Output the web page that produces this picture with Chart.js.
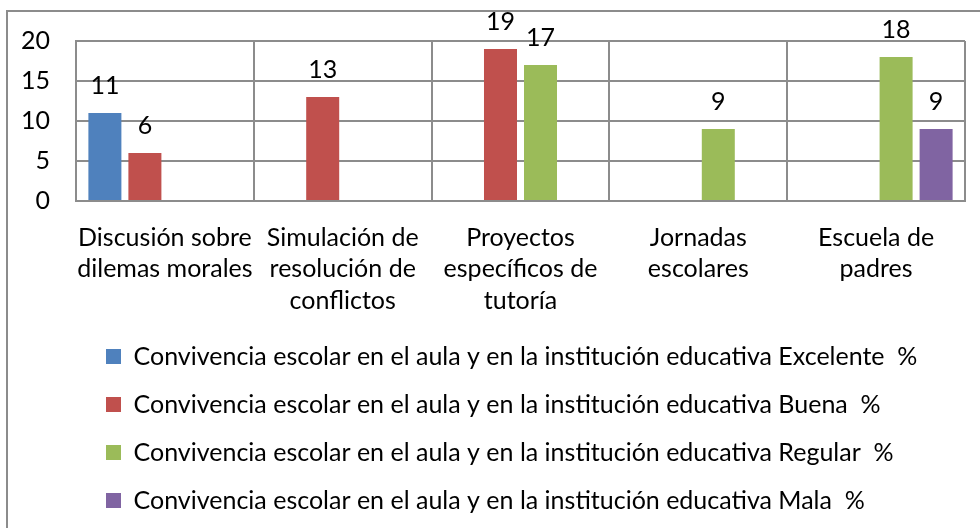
<!DOCTYPE html>
<html>
<head>
<meta charset="utf-8">
<script src="https://cdn.jsdelivr.net/npm/chart.js@4.4.1/dist/chart.umd.min.js"></script>
<style>
  html, body { margin: 0; padding: 0; background: #fff; overflow: hidden; }
  #frame { position: absolute; left: 6px; top: 10px; width: 1100px; height: 700px; border: 2px solid #8c8c8c; }
  #wrap { position: absolute; left: 0; top: 0; width: 980px; height: 528px; }
</style>
</head>
<body>
<div id="frame"></div>
<div id="wrap"><canvas id="chart"></canvas></div>
<script>
// Categories (wrapped like the original axis labels)
const categories = [
    ["Discusión sobre", "dilemas morales"],
    ["Simulación de", "resolución de", "conflictos"],
    ["Proyectos", "específicos de", "tutoría"],
    ["Jornadas", "escolares"],
    ["Escuela de", "padres"]
];

const seriesNames = [
    "Convivencia escolar en el aula y en la institución educativa Excelente  %",
    "Convivencia escolar en el aula y en la institución educativa Buena  %",
    "Convivencia escolar en el aula y en la institución educativa Regular  %",
    "Convivencia escolar en el aula y en la institución educativa Mala  %"
];

// Series values (null = no bar)
const excelente = [11, null, null, null, null];
const buena = [6, 13, 19, null, null];
const regular = [null, null, 17, 9, 18];
const mala = [null, null, null, null, 9];

const yMin = 0;
const yMax = 20;
const yStep = 5;

const colors = ["#4F81BD", "#C0504D", "#9BBB59", "#8064A2"];
const FONT = "Lato";
const FONT_SIZE = 25;

// Value labels above bars
const valueLabels = {
    id: "valueLabels",
    afterDatasetsDraw(chart) {
        const ctx = chart.ctx;
        ctx.save();
        ctx.font = FONT_SIZE + "px " + FONT;
        ctx.fillStyle = "#000";
        ctx.textAlign = "center";
        ctx.textBaseline = "alphabetic";
        chart.data.datasets.forEach((ds, i) => {
            chart.getDatasetMeta(i).data.forEach((bar, j) => {
                const v = ds.data[j];
                if (v === null) return;
                ctx.fillText(String(v), bar.x, bar.y - 19);
            });
        });
        ctx.restore();
    }
};

// small nudge so legend rows start where the original ones do
const legendShift = {
    id: "legendShift",
    afterLayout(chart) {
        chart.legend.left += 7;
        chart.legend.right += 7;
    }
};

const allData = [excelente, buena, regular, mala];

new Chart(document.getElementById("chart"), {
    type: "bar",
    data: {
        labels: categories,
        datasets: allData.map((d, i) => ({
            label: seriesNames[i],
            data: d,
            backgroundColor: colors[i],
            categoryPercentage: 0.9,
            barPercentage: 0.825
        }))
    },
    options: {
        responsive: true,
        maintainAspectRatio: false,
        animation: false,
        layout: {
            padding: { left: 0, right: 15, top: 40, bottom: 5 }
        },
        scales: {
            x: {
                grid: { color: "#8c8c8c", lineWidth: 2, drawTicks: false },
                border: { color: "#8c8c8c", width: 2 },
                ticks: {
                    color: "#000",
                    font: { family: FONT, size: FONT_SIZE, lineHeight: 1.26 },
                    padding: 21,
                    maxRotation: 0,
                    autoSkip: false
                },
                afterFit(scale) { scale.height = 120; }
            },
            y: {
                min: yMin,
                max: yMax,
                grid: { color: "#8c8c8c", lineWidth: 2, drawTicks: false },
                border: { color: "#8c8c8c", width: 2 },
                ticks: {
                    stepSize: yStep,
                    color: "#000",
                    font: { family: FONT, size: FONT_SIZE },
                    padding: 26
                },
                afterFit(scale) { scale.width = 76; }
            }
        },
        plugins: {
            legend: {
                position: "bottom",
                align: "start",
                fullSize: false,
                labels: {
                    color: "#000",
                    boxWidth: 15,
                    boxHeight: 15,
                    padding: 23,
                    font: { family: FONT, size: FONT_SIZE }
                }
            },
            tooltip: { enabled: false }
        }
    },
    plugins: [valueLabels, legendShift]
});
</script>
</body>
</html>
